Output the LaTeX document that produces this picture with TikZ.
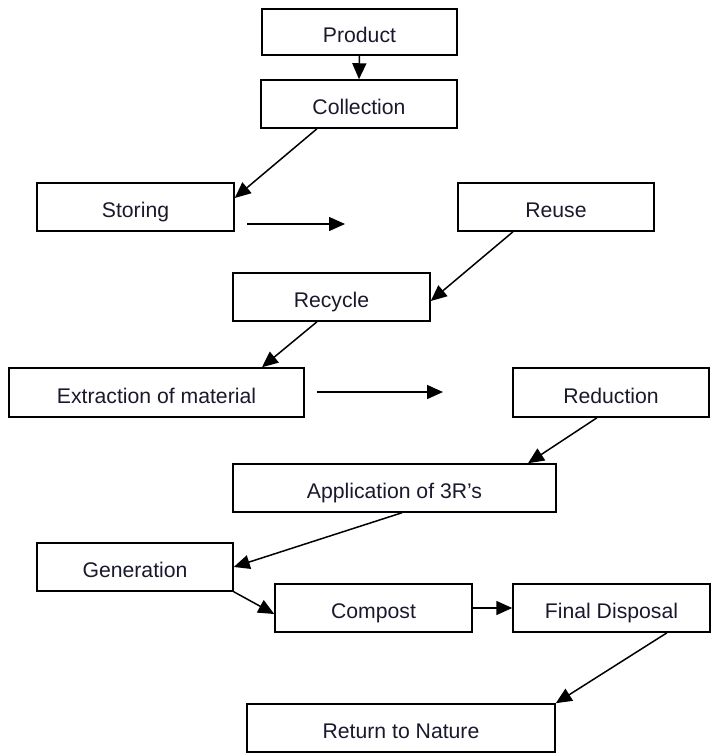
\documentclass[tikz,border=0pt]{standalone}
\usepackage{fontspec}
\setmainfont{Liberation Sans}
\usetikzlibrary{arrows.meta}
\definecolor{txt}{RGB}{25,25,45}
\begin{document}
\begin{tikzpicture}[x=1pt,y=-1pt,
  box/.style={draw=black,line width=1.5pt,rectangle,inner sep=0pt,
    text=txt,font=\fontsize{21.2}{25}\selectfont,text height=21pt,text depth=0pt},
  arr/.style={line width=1.5pt,-{Triangle[length=16pt,width=14pt]}}]
\useasboundingbox (0,0) rectangle (715,753);
\node[box,minimum width=195pt,minimum height=46pt] (prod) at (359.5,32) {Product};
\node[box,minimum width=196pt,minimum height=48pt] (coll) at (359,104) {Collection};
\node[box,minimum width=197pt,minimum height=48pt] (stor) at (135.5,207) {Storing};
\node[box,minimum width=196pt,minimum height=48pt] (reuse) at (556,207) {Reuse};
\node[box,minimum width=197pt,minimum height=48pt] (recy) at (331.5,297) {Recycle};
\node[box,minimum width=295pt,minimum height=49pt] (extr) at (156.5,392.5) {Extraction of material};
\node[box,minimum width=196pt,minimum height=49pt] (redu) at (611,392.5) {Reduction};
\node[box,minimum width=323pt,minimum height=48pt] (appl) at (394.5,488) {Application of 3R’s};
\node[box,minimum width=196pt,minimum height=48pt] (gene) at (135,567) {Generation};
\node[box,minimum width=197pt,minimum height=48pt] (comp) at (373.5,608) {Compost};
\node[box,minimum width=197pt,minimum height=48pt] (fina) at (611.5,608) {Final Disposal};
\node[box,minimum width=308pt,minimum height=48pt] (retu) at (401,728) {Return to Nature};
\coordinate (s1) at (247,224);
\coordinate (e1) at (345,224);
\coordinate (s2) at (317,392);
\coordinate (e2) at (443,392);
\draw[arr] (prod.south) -- (coll.north);
\draw[arr] ([xshift=-42pt]coll.south) -- ([yshift=9pt]stor.east);
\draw[arr] (s1) -- (e1);
\draw[arr] ([xshift=-43pt]reuse.south) -- ([yshift=-4pt]recy.east);
\draw[arr] ([xshift=-14.5pt]recy.south) -- ([xshift=105.5pt]extr.north);
\draw[arr] (s2) -- (e2);
\draw[arr] ([xshift=-14pt]redu.south) -- ([xshift=133.5pt]appl.north);
\draw[arr] ([xshift=7.5pt]appl.south) -- (gene.east);
\draw[arr] (gene.south east) -- ([yshift=-6pt]comp.west);
\draw[arr] (comp.east) -- (fina.west);
\draw[arr] ([xshift=55.5pt]fina.south) -- (retu.north east);
\end{tikzpicture}
\end{document}
